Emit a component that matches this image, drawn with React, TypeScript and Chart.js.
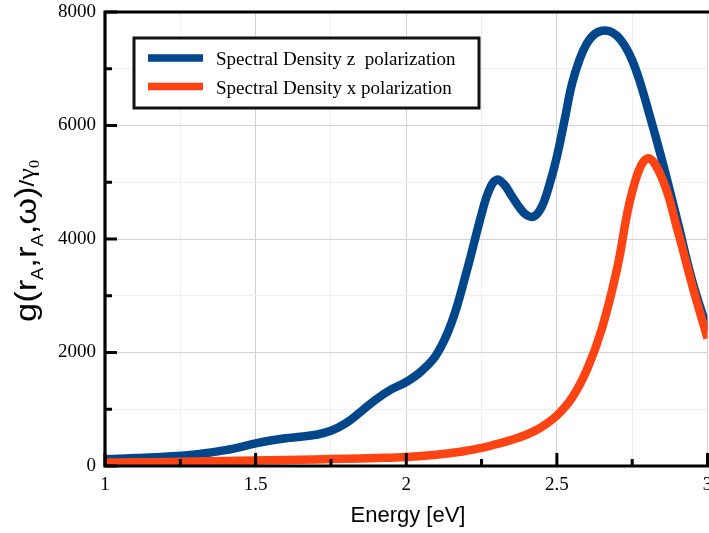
import React, { useEffect, useRef } from 'react';
import { Chart, registerables } from 'chart.js';

Chart.register(...registerables);

// ---- data ----
const energyZ = [1.0, 1.1, 1.2, 1.3, 1.4, 1.5, 1.55, 1.6, 1.65, 1.7, 1.75, 1.8, 1.85, 1.9, 1.95, 2.0, 2.05, 2.1, 2.15, 2.2, 2.25, 2.275, 2.3, 2.325, 2.35, 2.375, 2.4, 2.425, 2.45, 2.475, 2.5, 2.525, 2.55, 2.575, 2.6, 2.625, 2.65, 2.675, 2.7, 2.725, 2.75, 2.775, 2.8, 2.85, 2.9, 2.95, 3.0];
const densityZ = [118, 140, 165, 205, 280, 398, 450, 490, 515, 550, 620, 755, 960, 1175, 1350, 1480, 1670, 1960, 2520, 3420, 4440, 4860, 5045, 4960, 4760, 4560, 4420, 4400, 4570, 4950, 5450, 6080, 6730, 7160, 7450, 7610, 7670, 7660, 7580, 7410, 7150, 6780, 6330, 5370, 4320, 3250, 2400];

const energyX = [1.0, 1.1, 1.2, 1.3, 1.4, 1.5, 1.6, 1.7, 1.8, 1.9, 2.0, 2.1, 2.2, 2.3, 2.35, 2.4, 2.45, 2.5, 2.55, 2.6, 2.65, 2.7, 2.75, 2.8, 2.85, 2.9, 2.95, 3.0];
const densityX = [60, 65, 72, 80, 88, 96, 105, 115, 128, 140, 158, 200, 268, 385, 460, 555, 690, 890, 1200, 1700, 2430, 3480, 4830, 5420, 5060, 4170, 3170, 2250];

const seriesLabels = ['Spectral Density z  polarization', 'Spectral Density x polarization'];
const seriesColors = ['#00468b', '#ff4312'];

const xTickValues = [1, 1.25, 1.5, 1.75, 2, 2.25, 2.5, 2.75, 3];
const xLabelValues = [1, 1.5, 2, 2.5, 3];
const xTickLabels = ['1', '1.5', '2', '2.5', '3'];
const yTickValues = [0, 1000, 2000, 3000, 4000, 5000, 6000, 7000, 8000];
const yLabelValues = [0, 2000, 4000, 6000, 8000];
const yTickLabels = ['0', '2000', '4000', '6000', '8000'];

const xTitle = 'Energy [eV]';

const SERIF = '"Liberation Serif", "Times New Roman", serif';
const SANS = '"Liberation Sans", Arial, sans-serif';

const framePlugin = {
  id: 'frame',
  afterDatasetsDraw(chart: any) {
    const { ctx, chartArea, scales } = chart;
    const { left, right, top, bottom } = chartArea;
    const xs = scales.x;
    const ys = scales.y;
    ctx.save();
    ctx.strokeStyle = '#000';
    ctx.lineCap = 'butt';
    ctx.lineWidth = 3;
    // inward ticks
    xTickValues.forEach((v) => {
      const px = xs.getPixelForValue(v);
      const len = xLabelValues.includes(v) ? 13 : 7;
      ctx.beginPath();
      ctx.moveTo(px, bottom);
      ctx.lineTo(px, bottom - len);
      ctx.stroke();
    });
    yTickValues.forEach((v) => {
      const py = ys.getPixelForValue(v);
      const len = yLabelValues.includes(v) ? 12 : 7;
      ctx.beginPath();
      ctx.moveTo(left, py);
      ctx.lineTo(left + len, py);
      ctx.stroke();
    });
    // axes and top frame
    ctx.lineWidth = 3.2;
    ctx.beginPath();
    ctx.moveTo(left, top - 1.5);
    ctx.lineTo(left, bottom + 1.5);
    ctx.moveTo(left - 1.5, bottom);
    ctx.lineTo(right + 3, bottom);
    ctx.moveTo(left - 1.5, top);
    ctx.lineTo(right + 3, top);
    ctx.stroke();

    // legend
    const bx = 134, by = 38, bw = 345, bh = 70;
    ctx.fillStyle = '#fff';
    ctx.fillRect(bx, by, bw, bh);
    ctx.lineWidth = 3;
    ctx.strokeStyle = '#111';
    ctx.strokeRect(bx, by, bw, bh);
    const rows = [58, 86.5];
    rows.forEach((ry, i) => {
      ctx.strokeStyle = seriesColors[i];
      ctx.lineWidth = 7.5;
      ctx.beginPath();
      ctx.moveTo(148, ry);
      ctx.lineTo(203, ry);
      ctx.stroke();
      ctx.fillStyle = '#000';
      ctx.font = `19px ${SERIF}`;
      ctx.textAlign = 'left';
      ctx.textBaseline = 'alphabetic';
      ctx.fillText(seriesLabels[i], 216, ry + 7);
    });
    ctx.restore();
  },
  afterDraw(chart: any) {
    const { ctx } = chart;
    ctx.save();
    ctx.fillStyle = '#000';
    // x title
    ctx.font = `22px ${SANS}`;
    ctx.textAlign = 'center';
    ctx.textBaseline = 'alphabetic';
    ctx.fillText(xTitle, 408, 522);

    // y title: g(r_A, r_A, ω)/γ_0
    const parts: { t: string; font: string; dy: number }[] = [
      { t: 'g(r', font: `30px ${SANS}`, dy: 0 },
      { t: 'A', font: `16px ${SANS}`, dy: 7 },
      { t: ',r', font: `30px ${SANS}`, dy: 0 },
      { t: 'A', font: `16px ${SANS}`, dy: 7 },
      { t: ',ω)', font: `30px ${SANS}`, dy: 0 },
      { t: '/', font: `21px ${SANS}`, dy: -2 },
      { t: 'γ', font: `23px ${SERIF}`, dy: -2 },
      { t: '0', font: `14px ${SERIF}`, dy: 3 },
    ];
    let total = 0;
    const widths = parts.map((p) => {
      ctx.font = p.font;
      const w = ctx.measureText(p.t).width;
      total += w;
      return w;
    });
    const targetLen = 162;
    const sx = targetLen / total;
    const cx = 36;
    const cy = 241;
    ctx.translate(cx, cy);
    ctx.rotate(-Math.PI / 2);
    ctx.scale(sx, 1);
    let u = -total / 2;
    ctx.textAlign = 'left';
    parts.forEach((p, i) => {
      ctx.font = p.font;
      ctx.fillText(p.t, u, p.dy);
      u += widths[i];
    });
    ctx.restore();
  },
};

export default function App() {
  const canvasRef = useRef<HTMLCanvasElement | null>(null);

  useEffect(() => {
    const canvas = canvasRef.current;
    if (!canvas) return;
    const chart = new Chart(canvas, {
      type: 'line',
      data: {
        datasets: [
          {
            label: seriesLabels[1],
            data: energyX.map((e, i) => ({ x: e, y: densityX[i] })),
            borderColor: seriesColors[1],
            backgroundColor: seriesColors[1],
            borderWidth: 8.5,
            borderJoinStyle: 'round',
            pointRadius: 0,
            tension: 0.4,
            fill: false,
          },
          {
            label: seriesLabels[0],
            data: energyZ.map((e, i) => ({ x: e, y: densityZ[i] })),
            borderColor: seriesColors[0],
            backgroundColor: seriesColors[0],
            borderWidth: 8.5,
            borderJoinStyle: 'round',
            pointRadius: 0,
            tension: 0.4,
            fill: false,
          },
        ],
      },
      options: {
        animation: false,
        responsive: false,
        devicePixelRatio: 1,
        layout: { padding: { top: 12, right: 1.5, left: 0, bottom: 0 } },
        plugins: {
          legend: { display: false },
          tooltip: { enabled: false },
        },
        scales: {
          x: {
            type: 'linear',
            min: 1,
            max: 3,
            afterBuildTicks: (scale: any) => {
              scale.ticks = xTickValues.map((v) => ({ value: v }));
            },
            afterFit: (scale: any) => {
              scale.height = 67;
              scale.paddingLeft = 0;
              scale.paddingRight = 0;
            },
            ticks: {
              autoSkip: false,
              maxRotation: 0,
              padding: 8,
              color: '#000',
              font: { family: SERIF, size: 19 },
              callback: (value: any) => {
                const i = xLabelValues.indexOf(Number(value));
                return i >= 0 ? xTickLabels[i] : '';
              },
            },
            grid: {
              drawTicks: false,
              lineWidth: 1,
              color: (c: any) =>
                c.tick && xLabelValues.includes(c.tick.value) ? '#d2d2d2' : '#eeeeee',
            },
            border: { display: false },
          },
          y: {
            type: 'linear',
            min: 0,
            max: 8000,
            afterBuildTicks: (scale: any) => {
              scale.ticks = yTickValues.map((v) => ({ value: v }));
            },
            afterFit: (scale: any) => {
              scale.width = 105;
              scale.paddingTop = 0;
              scale.paddingBottom = 0;
            },
            ticks: {
              autoSkip: false,
              padding: 9,
              color: '#000',
              font: { family: SERIF, size: 19 },
              callback: (value: any) => {
                const i = yLabelValues.indexOf(Number(value));
                return i >= 0 ? yTickLabels[i] : '';
              },
            },
            grid: {
              drawTicks: false,
              lineWidth: 1,
              color: (c: any) =>
                c.tick && yLabelValues.includes(c.tick.value) ? '#d2d2d2' : '#eeeeee',
            },
            border: { display: false },
          },
        },
      },
      plugins: [framePlugin],
    } as any);
    return () => chart.destroy();
  }, []);

  return (
    <div style={{ position: 'fixed', left: 0, top: 0, width: 709, height: 533, overflow: 'hidden', background: '#fff' }}>
      <canvas ref={canvasRef} width={709} height={533} style={{ display: 'block' }} />
    </div>
  );
}
